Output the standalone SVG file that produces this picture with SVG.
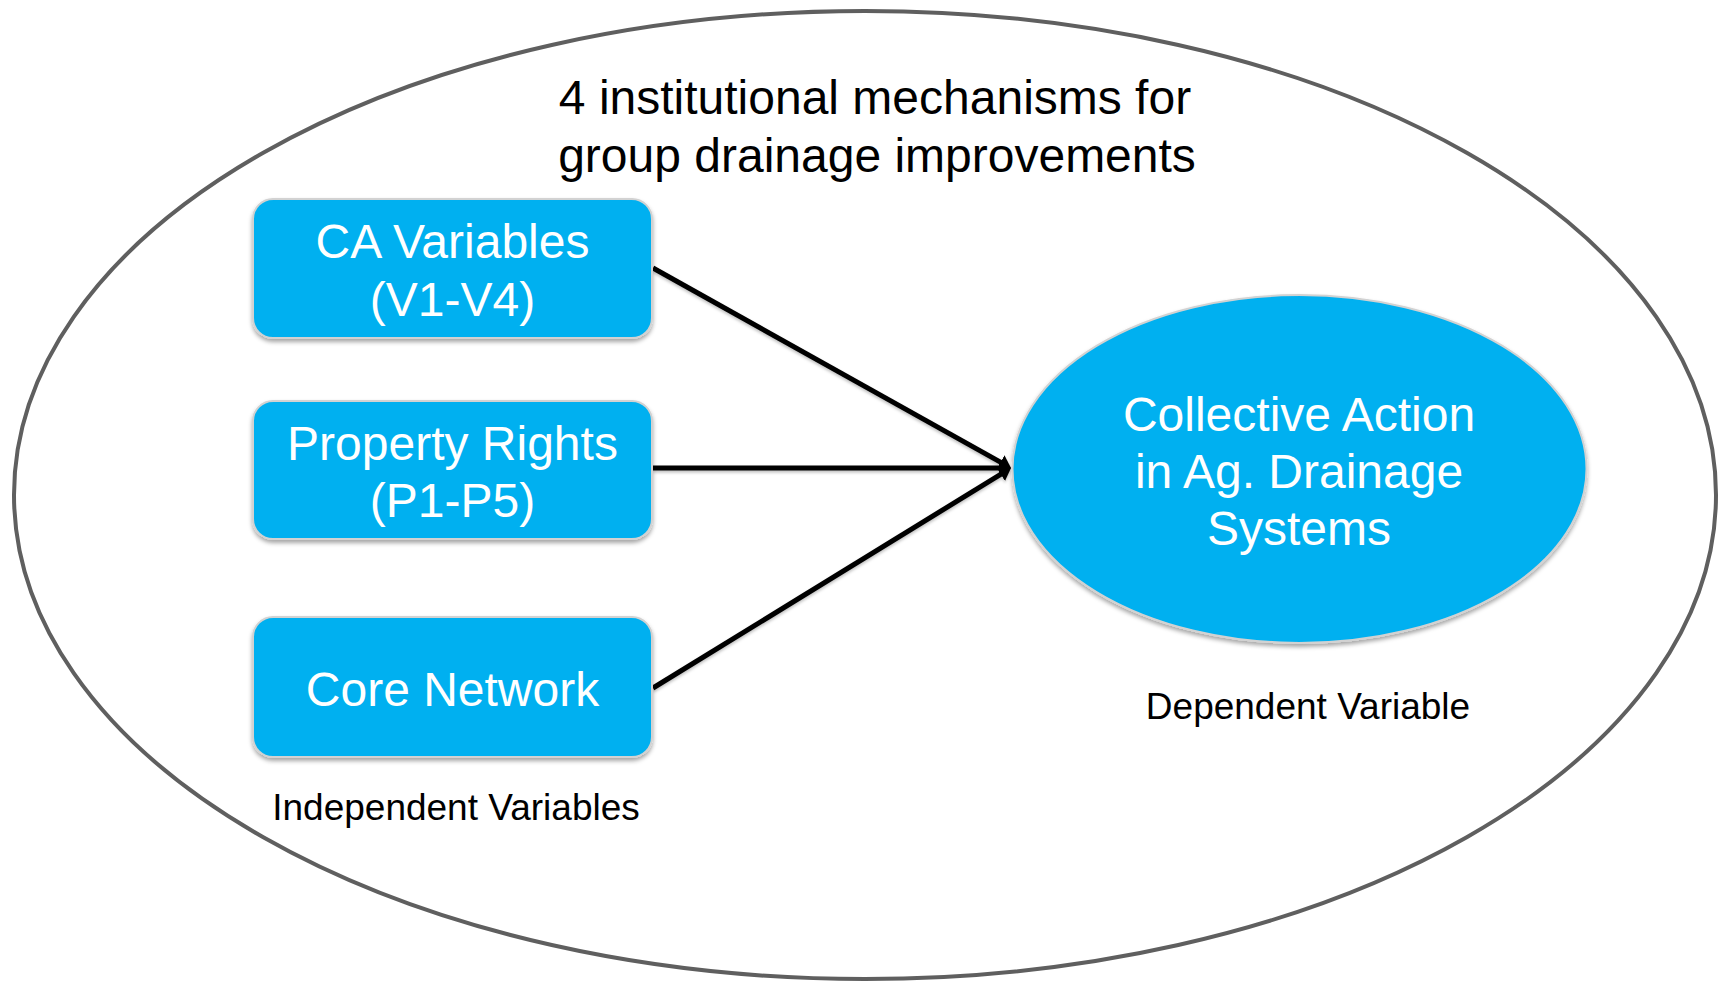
<svg xmlns="http://www.w3.org/2000/svg" width="1723" height="981" viewBox="0 0 1723 981">
  <style>
    .frame { fill: #ffffff; stroke: #5f5f5f; stroke-width: 4; }
    .node { fill: #00b0f0; stroke: #d2d2d2; stroke-width: 2; filter: url(#shadow); }
    .node-text { font-family: "Liberation Sans", Arial, sans-serif; font-size: 48px; fill: #ffffff; text-anchor: middle; }
    .title { font-family: "Liberation Sans", Arial, sans-serif; font-size: 48px; fill: #000000; text-anchor: middle; }
    .caption { font-family: "Liberation Sans", Arial, sans-serif; font-size: 37px; fill: #000000; text-anchor: middle; }
    .edge { fill: none; stroke: #000000; stroke-width: 5; marker-end: url(#arrow); }
  </style>
  <defs>
    <filter id="shadow" x="-10%" y="-10%" width="120%" height="130%">
      <feDropShadow dx="0" dy="3" stdDeviation="2" flood-color="#000000" flood-opacity="0.35"/>
    </filter>
    <filter id="lineShadow" x="-5%" y="-5%" width="110%" height="120%">
      <feDropShadow dx="0" dy="2" stdDeviation="1.5" flood-color="#000000" flood-opacity="0.25"/>
    </filter>
    <marker id="arrow" viewBox="0 0 12 16" refX="6" refY="8" markerWidth="12" markerHeight="16" markerUnits="userSpaceOnUse" orient="auto">
      <path d="M0,0 L12,8 L0,16 z" fill="#000000"/>
    </marker>
  </defs>

  <!-- outer boundary -->
  <ellipse class="frame" cx="865" cy="495" rx="851" ry="484"/>

  <g id="title">
    <text class="title" x="875" y="114">4 institutional mechanisms for</text>
    <text class="title" x="877" y="172">group drainage improvements</text>
  </g>

  <!-- connectors -->
  <g id="connectors" filter="url(#lineShadow)">
    <path class="edge" d="M653,268 L1005.8,465.1"/>
    <path class="edge" d="M653,468 L1005,468"/>
    <path class="edge" d="M653,688 L1005.9,471.1"/>
  </g>

  <g id="ca-variables">
    <rect class="node" x="253" y="199" width="399" height="139" rx="20" ry="20"/>
    <text class="node-text" x="452.5" y="258">CA Variables</text>
    <text class="node-text" x="452.5" y="316">(V1-V4)</text>
  </g>

  <g id="property-rights">
    <rect class="node" x="253" y="401" width="399" height="138" rx="20" ry="20"/>
    <text class="node-text" x="452.5" y="460">Property Rights</text>
    <text class="node-text" x="452.5" y="517">(P1-P5)</text>
  </g>

  <g id="core-network">
    <rect class="node" x="253" y="617" width="399" height="140" rx="20" ry="20"/>
    <text class="node-text" x="452.5" y="706">Core Network</text>
  </g>

  <g id="collective-action">
    <ellipse class="node" cx="1299.5" cy="469" rx="287" ry="174"/>
    <text class="node-text" x="1299" y="431">Collective Action</text>
    <text class="node-text" x="1299" y="488">in Ag. Drainage</text>
    <text class="node-text" x="1299" y="545">Systems</text>
  </g>

  <g id="labels">
    <text class="caption" x="456" y="820">Independent Variables</text>
    <text class="caption" x="1308" y="719">Dependent Variable</text>
  </g>
</svg>
